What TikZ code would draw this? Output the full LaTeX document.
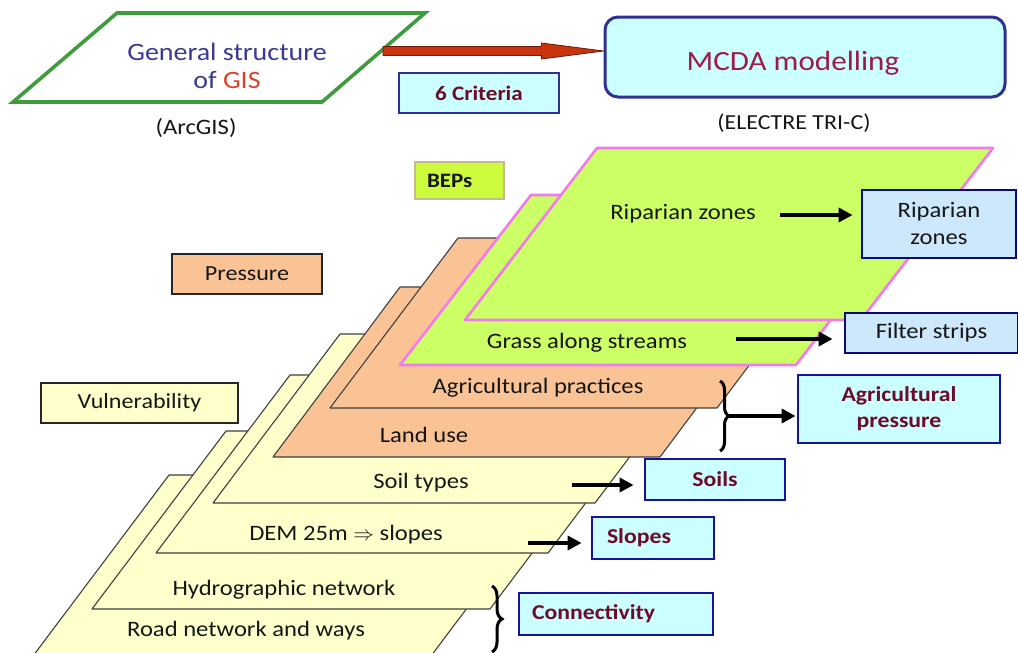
\documentclass[tikz,border=0pt]{standalone}
\usepackage{fontspec}
\setmainfont{Carlito}[FakeStretch=1.12]
\usetikzlibrary{arrows.meta,decorations.pathreplacing,calc}
\definecolor{yellowL}{HTML}{FFFFCC}
\definecolor{orangeL}{HTML}{FAC396}
\definecolor{greenL}{HTML}{CCFF66}
\definecolor{pinkB}{HTML}{F27AEE}
\definecolor{layerline}{HTML}{404040}
\definecolor{gisgreen}{HTML}{3E9B3E}
\definecolor{gisblue}{HTML}{3A3A96}
\definecolor{gisred}{HTML}{D8432A}
\definecolor{arrowred}{HTML}{C8340E}
\definecolor{arrowdark}{HTML}{6E1A0A}
\definecolor{cyanF}{HTML}{CCFFFF}
\definecolor{blueF}{HTML}{CCE8FA}
\definecolor{navyB}{HTML}{2E3192}
\definecolor{blueB}{HTML}{1414A0}
\definecolor{darkB}{HTML}{0A0A78}
\definecolor{darkred}{HTML}{6E0A2A}
\definecolor{mcdared}{HTML}{9E1A4A}
\definecolor{bepsF}{HTML}{CCFA3C}
\definecolor{bepsB}{HTML}{C8B890}
\definecolor{txt}{HTML}{161616}
\newcommand\myfs[2]{\fontsize{#1}{#2}\selectfont}
\begin{document}
\begin{tikzpicture}[x=1pt,y=-1pt,
  layerY/.style={fill=yellowL, draw=layerline, line width=1.1pt, line join=round},
  layerO/.style={fill=orangeL, draw=layerline, line width=1.1pt, line join=round},
  layerG/.style={fill=greenL, draw=pinkB, line width=2.6pt, line join=round},
  ltext/.style={font=\myfs{22}{26}, text=txt, inner sep=0pt},
  cbox/.style={draw=blueB, line width=2.8pt, fill=cyanF, inner sep=0pt, font=\bfseries\myfs{21.2}{26}, text=darkred, align=center},
  bbox/.style={draw=darkB, line width=2.8pt, fill=blueF, inner sep=0pt, font=\myfs{22}{27}, text=txt, align=center},
  kbox/.style={draw=black!85, line width=2.4pt, inner sep=0pt, font=\myfs{21.5}{25}, text=txt},
  blkarrow/.style={line width=3.8pt, -{Triangle[length=14pt,width=14pt]}},
  bracestyle/.style={decorate, decoration={brace, amplitude=9pt}, line width=3pt},
]
\useasboundingbox (0,0) rectangle (1018,653);
\clip (0,0) rectangle (1018,653);
\fill[white] (0,0) rectangle (1018,653);

% ---------- top part ----------
\path[draw=gisgreen, line width=3.6pt, line join=miter, fill=white]
  (13,102) -- (117,13) -- (425,13) -- (322,102) -- cycle;
\node[font=\myfs{25}{28}, align=center, inner sep=0pt] (gis) at (227,66)
  {\textcolor{gisblue}{General structure}\\\textcolor{gisblue}{of} \textcolor{gisred}{GIS}};
\node[font=\myfs{22}{24}, text=txt, inner sep=0pt] (arcgis) at (196,128) {(ArcGIS)};

\node[draw=navyB, line width=3pt, fill=cyanF, rounded corners=13pt,
  minimum width=400pt, minimum height=80pt, inner sep=0pt] (mcda) at (805,57) {};
\node[font=\myfs{27.8}{30}, text=mcdared, inner sep=0pt] (mcdat) at (793,63) {MCDA modelling};
\node[font=\myfs{21.4}{24}, text=txt, inner sep=0pt] (electre) at (794,123) {(ELECTRE TRI-C)};

\coordinate (gisA) at (383,51);
\coordinate (gisB) at (mcda.west |- gisA);
\filldraw[fill=arrowred, draw=arrowdark, line width=0.8pt, line join=miter]
  ($(gisA)+(0,-4.5)$) -- ($(gisB)+(-62,-4.5)$) -- ($(gisB)+(-62,-8)$) -- (gisB)
  -- ($(gisB)+(-62,8)$) -- ($(gisB)+(-62,4.5)$) -- ($(gisA)+(0,4.5)$) -- cycle;

\node[draw=navyB, line width=2.8pt, fill=cyanF, minimum width=160pt, minimum height=40pt,
  inner sep=0pt, font=\bfseries\myfs{20.6}{24}, text=darkred] (crit) at (479,93) {6 Criteria};

\node[draw=bepsB, line width=1.2pt, fill=bepsF, minimum height=37pt, text width=65pt,
  inner xsep=12pt, inner ysep=0pt, align=left, font=\bfseries\myfs{20.5}{24}, text=txt] (beps) at (459.5,180.5) {BEPs};

\node[kbox, fill=orangeL, minimum width=150pt, minimum height=40pt] (press) at (247,274) {Pressure};
\node[kbox, fill=yellowL, minimum width=197pt, minimum height=40pt] (vuln) at (139.5,403) {Vulnerability};

% ---------- layers ----------
\path[layerY] (30,660) -- (428,660) -- (567,475) -- (169,475) -- cycle;
\path[layerY] (92,609) -- (490,609) -- (624,431) -- (226,431) -- cycle;
\path[layerY] (156,553) -- (548,553) -- (682,375) -- (290,375) -- cycle;
\path[layerY] (213,503) -- (595,503) -- (722,334) -- (340,334) -- cycle;
\path[layerO] (273,457) -- (660,457) -- (787,287) -- (400,287) -- cycle;
\path[layerO] (330,408) -- (717,408) -- (845,238) -- (458,238) -- cycle;
\path[layerG] (400,365) -- (796,365) -- (927,195) -- (531,195) -- cycle;
\path[layerG] (465,320) -- (861,320) -- (993,148) -- (597,148) -- cycle;

\node[ltext] (tRip)   at (683,214) {Riparian zones};
\node[ltext] (tGrass) at (587,343) {Grass along streams};
\node[ltext] (tAgri)  at (538,388) {Agricultural practices};
\node[ltext] (tLand)  at (424,435) {Land use};
\node[ltext] (tSoil)  at (421,483) {Soil types};
\node[ltext] (tDem)   at (346,535) {DEM 25m $\Rightarrow$ slopes};
\node[ltext] (tHydro) at (284,590) {Hydrographic network};
\node[ltext] (tRoad)  at (246,631) {Road network and ways};

% ---------- result boxes ----------
\node[bbox, minimum width=154pt, minimum height=68pt] (rip) at (939,224) {Riparian\\zones};
\node[bbox, minimum width=173pt, minimum height=40pt] (filt) at (931.5,333) {Filter strips};
\node[cbox, minimum width=202pt, minimum height=68pt] (agp) at (899,409) {Agricultural\\pressure};
\node[cbox, minimum width=140pt, minimum height=41pt] (soils) at (715,479.5) {Soils};
\node[cbox, minimum height=42pt, text width=92pt, inner xsep=15pt, align=left] (slopes) at (653,538) {Slopes};
\node[cbox, minimum height=42pt, text width=168pt, inner xsep=13pt, align=left] (conn) at (616,614) {Connectivity};

% ---------- connectors ----------
\coordinate (ripA) at (780,215);
\draw[blkarrow, shorten >=8pt] (ripA) -- (ripA -| rip.west);
\coordinate (filtA) at (736,339);
\draw[blkarrow, shorten >=11pt] (filtA) -- (filtA -| filt.west);
\coordinate (soilA) at (572,485);
\draw[blkarrow, shorten >=10pt] (soilA) -- (soilA -| soils.west);
\coordinate (slopeA) at (528,543);
\draw[blkarrow, shorten >=9pt] (slopeA) -- (slopeA -| slopes.west);

\coordinate (agB1) at (720,381);
\coordinate (agB2) at (720,451);
\draw[bracestyle] (agB1) -- (agB2);
\coordinate (agTip) at (729,416);
\draw[blkarrow, shorten >=1pt] (agTip) -- (agTip -| agp.west);

\coordinate (cnB1) at (492,586);
\coordinate (cnB2) at (492,652);
\draw[bracestyle, decoration={brace, amplitude=10pt}] (cnB1) -- (cnB2);
\end{tikzpicture}
\end{document}
